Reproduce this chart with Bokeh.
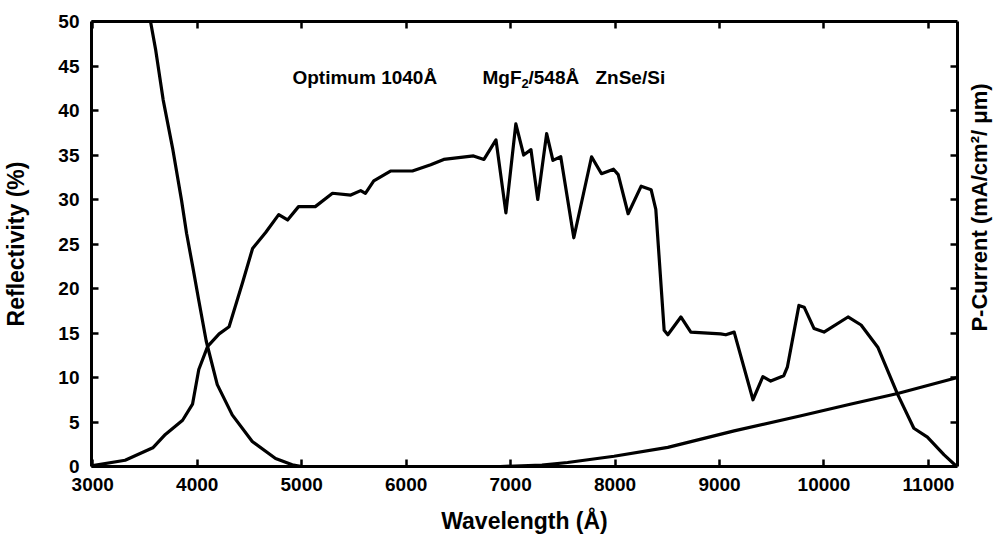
import math
from bokeh.plotting import figure
from bokeh.layouts import row
from bokeh.core.properties import value
from bokeh.models import Range1d, LinearAxis, FixedTicker, CustomJSTickFormatter, Label
from bokeh.embed import file_html
from bokeh.resources import INLINE

# ---- data ----
wl_refl = [3000, 3310, 3575, 3695, 3860, 3955, 4015, 4100, 4210, 4305, 4435, 4530,
           4655, 4780, 4865, 4970, 5130, 5295, 5470, 5565, 5610, 5690, 5850, 6060,
           6235, 6360, 6645, 6745, 6860, 6955, 7050, 7125, 7195, 7260, 7345, 7405,
           7480, 7605, 7775, 7870, 7985, 8030, 8125, 8250, 8345, 8390, 8470, 8505,
           8630, 8725, 9010, 9060, 9140, 9320, 9415, 9490, 9615, 9650, 9760, 9810,
           9905, 10000, 10230, 10355, 10515, 10705, 10860, 10990, 11150, 11270]
refl = [0.1, 0.7, 2.1, 3.6, 5.2, 7.0, 10.9, 13.5, 14.9, 15.7, 20.7, 24.5,
        26.3, 28.3, 27.7, 29.2, 29.2, 30.7, 30.5, 31.0, 30.7, 32.1, 33.2, 33.2,
        33.9, 34.5, 34.9, 34.5, 36.7, 28.5, 38.5, 35.0, 35.6, 30.0, 37.4, 34.4,
        34.8, 25.7, 34.8, 32.9, 33.4, 32.8, 28.4, 31.5, 31.1, 28.9, 15.3, 14.8,
        16.8, 15.1, 14.9, 14.8, 15.1, 7.5, 10.1, 9.6, 10.2, 11.2, 18.1, 17.9,
        15.5, 15.1, 16.8, 15.9, 13.4, 8.1, 4.3, 3.3, 1.3, 0.0]

wl_fall = [3530, 3553, 3601, 3674, 3767, 3850, 3898, 3958, 4016, 4086, 4192,
           4335, 4527, 4750, 4910, 5000]
fall = [52.8, 50.0, 46.9, 41.2, 35.6, 29.9, 26.2, 22.4, 18.6, 14.1, 9.2,
        5.8, 2.8, 0.9, 0.2, 0.0]

wl_pcur = [6900, 7300, 7545, 7990, 8505, 9140, 9780, 10250, 10705, 11278]
pcur = [0.0, 0.15, 0.45, 1.15, 2.15, 4.0, 5.7, 7.0, 8.2, 10.0]

x_ticks = [3000, 4000, 5000, 6000, 7000, 8000, 9000, 10000, 11000]
y_ticks = [0, 5, 10, 15, 20, 25, 30, 35, 40, 45, 50]
y_ticks_right = [5, 10, 15, 20, 25, 30, 35, 40, 45]

SANS = "Liberation Sans"

p = figure(frame_width=866, frame_height=445, output_backend="svg",
           toolbar_location=None,
           x_range=Range1d(2988, 11278), y_range=Range1d(0, 50),
           min_border_left=91, min_border_right=5, min_border_top=21,
           min_border_bottom=82,
           x_axis_label="Wavelength (Å)", y_axis_label="Reflectivity (%)")
p.grid.visible = False
p.outline_line_color = None
p.background_fill_color = "white"
p.border_fill_color = "white"


def style_axis(ax, ticks):
    ax.ticker = FixedTicker(ticks=ticks)
    ax.axis_line_width = 3
    ax.axis_line_color = "black"
    ax.major_tick_line_width = 2.5
    ax.major_tick_line_color = "black"
    ax.major_tick_in = 7
    ax.major_tick_out = 0
    ax.minor_tick_in = 0
    ax.minor_tick_out = 0
    ax.major_label_text_font = SANS
    ax.major_label_text_font_style = "bold"
    ax.major_label_text_font_size = "19px"
    ax.major_label_text_color = "black"
    ax.axis_label_text_font = SANS
    ax.axis_label_text_font_style = "bold"
    ax.axis_label_text_font_size = "23px"
    ax.axis_label_text_color = "black"


xa = p.xaxis[0]
style_axis(xa, x_ticks)
xa.major_label_standoff = 11
xa.axis_label_standoff = 14

ya = p.yaxis[0]
style_axis(ya, y_ticks)
ya.major_label_standoff = 12
ya.axis_label_standoff = 26

top = LinearAxis()
style_axis(top, x_ticks)
top.formatter = CustomJSTickFormatter(code="return ''")
top.major_label_text_font_size = "0px"
top.major_label_standoff = 0
p.add_layout(top, "above")

right = LinearAxis()
style_axis(right, y_ticks_right)
right.formatter = CustomJSTickFormatter(code="return ''")
right.major_label_text_font_size = "0px"
right.major_label_standoff = 0
p.add_layout(right, "right")

for xs, ys in ((wl_refl, refl), (wl_fall, fall), (wl_pcur, pcur)):
    p.line(xs, ys, line_color="black", line_width=3.2,
           line_join="round", line_cap="round")

# in-plot annotation
ax0, ay0 = 4912, 43.7
parts = [("Optimum 1040Å", 0, 0, "19px"),
         ("MgF", 190, 0, "19px"),
         ("2", 229, -6, "13px"),
         ("/548Å", 236, 0, "19px"),
         ("ZnSe/Si", 303, 0, "19px")]
for txt, dx, dy, fs in parts:
    p.add_layout(Label(x=ax0, y=ay0, x_offset=dx, y_offset=dy, text=txt,
                       text_font=SANS, text_font_style="bold",
                       text_font_size=fs, text_color="black",
                       text_baseline="alphabetic", text_align="left"))

# narrow strip on the right carrying the right-hand axis title (off-centre, as in the original)
q = figure(width=38, height=548, output_backend="svg", toolbar_location=None,
           x_range=Range1d(0, 1), y_range=p.y_range,
           x_axis_location=None, y_axis_location=None,
           min_border_left=0, min_border_right=0, min_border_top=21,
           min_border_bottom=82)
q.grid.visible = False
q.outline_line_color = None
q.background_fill_color = "white"
q.border_fill_color = "white"
q.text(x=[0.45], y=[29.1], text=["P-Current (mA/cm²/ μm)"], angle=math.pi / 2,
       text_font=value(SANS), text_font_style="bold", text_font_size="22px",
       text_color="black", text_align="center", text_baseline="middle")

layout = row(p, q, spacing=0)
open("out.html", "w").write(file_html(layout, INLINE))
